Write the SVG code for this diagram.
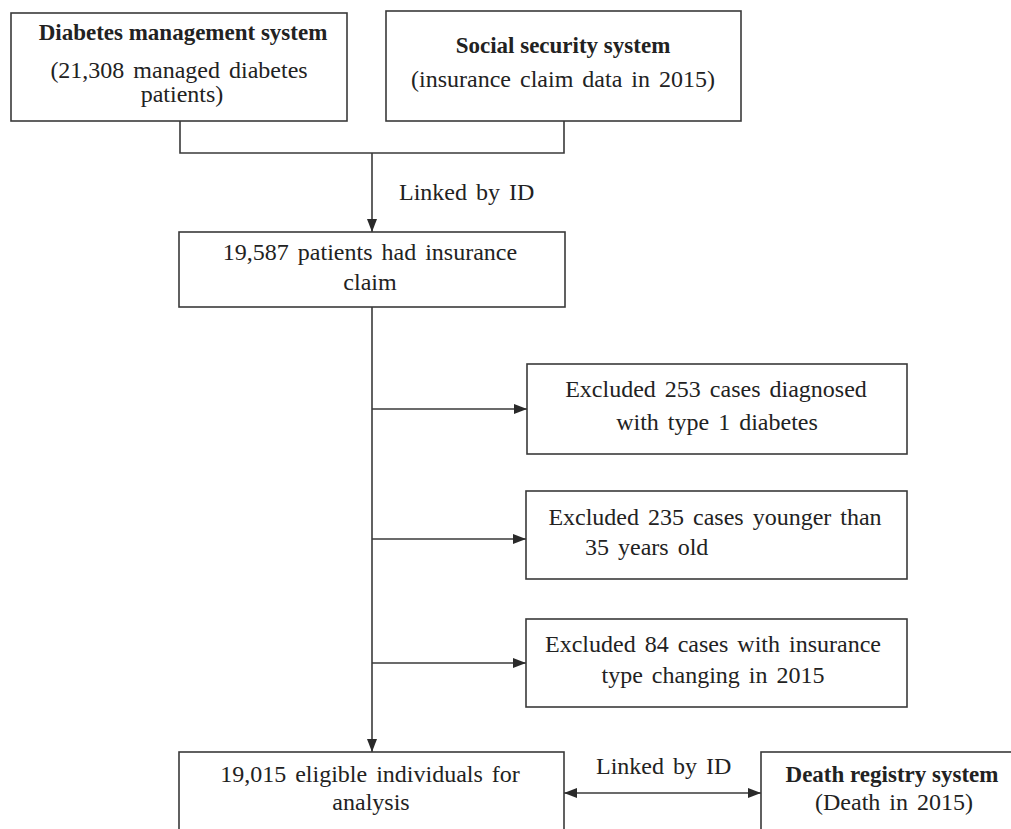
<svg xmlns="http://www.w3.org/2000/svg" width="1011" height="829" viewBox="0 0 1011 829">
<style>
.box{fill:#fff;stroke:#3a3a3a;stroke-width:1.6}
.t{font-family:"Liberation Serif","Times New Roman",serif;font-size:24px;fill:#222;text-anchor:middle;word-spacing:3px}
.s{text-anchor:start}
.b{font-family:"Liberation Serif","Times New Roman",serif;font-size:23px;font-weight:bold;fill:#222;text-anchor:middle}
.ln{fill:none;stroke:#3a3a3a;stroke-width:1.6}
</style>
<defs>
<marker id="ah" markerUnits="userSpaceOnUse" markerWidth="13" markerHeight="10" refX="13" refY="5" orient="auto-start-reverse">
<path d="M0,0 L13,5 L0,10 z" fill="#2a2a2a"/>
</marker>
</defs>
<rect width="1011" height="829" fill="#fff"/>
<g id="connectors">
<path class="ln" d="M180,121 V153 H564 V121"/>
<path class="ln" d="M372,153 V232" marker-end="url(#ah)"/>
<path class="ln" d="M372,307 V752" marker-end="url(#ah)"/>
<path class="ln" d="M372,409 H527" marker-end="url(#ah)"/>
<path class="ln" d="M372,539 H526" marker-end="url(#ah)"/>
<path class="ln" d="M372,663 H526" marker-end="url(#ah)"/>
<path class="ln" d="M564,793 H761" marker-start="url(#ah)" marker-end="url(#ah)"/>
<text class="t s" x="399" y="200">Linked by ID</text>
<text class="t s" x="596" y="774">Linked by ID</text>
</g>
<g id="diabetes-management">
<rect class="box" x="11" y="13" width="336" height="108"/>
<text class="b" x="183" y="40">Diabetes management system</text>
<text class="t" x="179" y="78">(21,308 managed diabetes</text>
<text class="t" x="182" y="102">patients)</text>
</g>
<g id="social-security">
<rect class="box" x="386" y="11" width="355" height="110"/>
<text class="b" x="563" y="53">Social security system</text>
<text class="t" x="563" y="87">(insurance claim data in 2015)</text>
</g>
<g id="insurance-claim">
<rect class="box" x="179" y="232" width="386" height="75"/>
<text class="t" x="370" y="260">19,587 patients had insurance</text>
<text class="t" x="370" y="290">claim</text>
</g>
<g id="excluded-type1">
<rect class="box" x="527" y="364" width="380" height="90"/>
<text class="t" x="716" y="397">Excluded 253 cases diagnosed</text>
<text class="t" x="717" y="430">with type 1 diabetes</text>
</g>
<g id="excluded-young">
<rect class="box" x="526" y="491" width="381" height="88"/>
<text class="t" x="715" y="525">Excluded 235 cases younger than</text>
<text class="t s" x="585" y="555">35 years old</text>
</g>
<g id="excluded-insurance">
<rect class="box" x="526" y="619" width="381" height="88"/>
<text class="t" x="713" y="652">Excluded 84 cases with insurance</text>
<text class="t" x="713" y="683">type changing in 2015</text>
</g>
<g id="eligible">
<rect class="box" x="179" y="752" width="385" height="90"/>
<text class="t" x="370" y="782">19,015 eligible individuals for</text>
<text class="t" x="371" y="810">analysis</text>
</g>
<g id="death-registry">
<rect class="box" x="761" y="752" width="260" height="90"/>
<text class="b" x="892" y="782">Death registry system</text>
<text class="t" x="894" y="810">(Death in 2015)</text>
</g>
</svg>
